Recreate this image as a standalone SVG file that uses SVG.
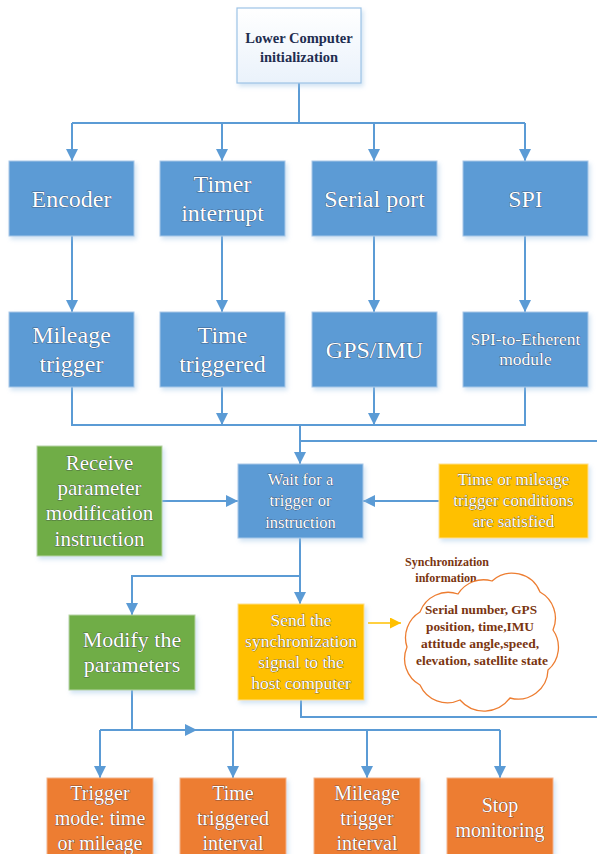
<svg xmlns="http://www.w3.org/2000/svg" width="597" height="854" viewBox="0 0 597 854">
<style>
.ln{stroke:#5B9BD5;stroke-width:2;fill:none}
.yl{stroke:#FFC000;stroke-width:1.5;fill:none}
.blue{fill:#5B9BD5;stroke:#A9C8E8;stroke-width:1}
.green{fill:#70AD47;stroke:#B7D4A5;stroke-width:1}
.yellow{fill:#FFC000;stroke:#FFE08A;stroke-width:1}
.orange{fill:#ED7D31;stroke:#F4B48A;stroke-width:1}
text{font-family:'Liberation Serif','DejaVu Serif',serif}
.t{text-anchor:middle;fill:#ffffff;stroke:#1c1c33;stroke-width:0.5;paint-order:stroke fill}
.dk{text-anchor:middle;font-weight:bold}
</style>
<defs>
<linearGradient id="wg" x1="0" y1="0" x2="0" y2="1">
<stop offset="0" stop-color="#ffffff"/>
<stop offset="1" stop-color="#EAF2FB"/>
</linearGradient>
<filter id="sh" x="-10%" y="-10%" width="125%" height="130%">
<feDropShadow dx="2" dy="3" stdDeviation="2" flood-color="#9DC3E6" flood-opacity="0.45"/>
</filter>
<marker id="ar" viewBox="0 0 12 12" markerWidth="12" markerHeight="12" refX="12" refY="6" orient="auto" markerUnits="userSpaceOnUse">
<path d="M0,0 L12,6 L0,12 z" fill="#5B9BD5"/>
</marker>
<marker id="ay" viewBox="0 0 12 12" markerWidth="11" markerHeight="11" refX="12" refY="6" orient="auto" markerUnits="userSpaceOnUse">
<path d="M0,0 L12,6 L0,12 z" fill="#FFC000"/>
</marker>
</defs>

<g id="connectors">
<path class="ln" d="M299,83 V123"/>
<path class="ln" d="M72,123 H525"/>
<path class="ln" d="M72,123 V161" marker-end="url(#ar)"/>
<path class="ln" d="M222,123 V161" marker-end="url(#ar)"/>
<path class="ln" d="M374,123 V161" marker-end="url(#ar)"/>
<path class="ln" d="M525,123 V161" marker-end="url(#ar)"/>
<path class="ln" d="M72,236 V312" marker-end="url(#ar)"/>
<path class="ln" d="M222,236 V312" marker-end="url(#ar)"/>
<path class="ln" d="M374,236 V312" marker-end="url(#ar)"/>
<path class="ln" d="M525,236 V312" marker-end="url(#ar)"/>
<path class="ln" d="M72,387 V425 H525 V387"/>
<path class="ln" d="M222,387 V425" marker-end="url(#ar)"/>
<path class="ln" d="M374,387 V425" marker-end="url(#ar)"/>
<path class="ln" d="M300,425 V464" marker-end="url(#ar)"/>
<path class="ln" d="M301,700 V717 H600 V441 H300"/>
<path class="ln" d="M162,501 H238" marker-end="url(#ar)"/>
<path class="ln" d="M439,501 H363" marker-end="url(#ar)"/>
<path class="ln" d="M300,538 V604" marker-end="url(#ar)"/>
<path class="ln" d="M300,576 H132 V615" marker-end="url(#ar)"/>
<path class="yl" d="M368,623 H401" marker-end="url(#ay)"/>
<path class="ln" d="M132,690 V730 H100"/>
<path class="ln" d="M100,730 H500"/>
<path class="ln" d="M132,730 H197" marker-end="url(#ar)"/>
<path class="ln" d="M100,730 V778" marker-end="url(#ar)"/>
<path class="ln" d="M233,730 V778" marker-end="url(#ar)"/>
<path class="ln" d="M367,730 V778" marker-end="url(#ar)"/>
<path class="ln" d="M500,730 V778" marker-end="url(#ar)"/>
</g>

<g id="init">
<rect x="237" y="8" width="124" height="75" fill="url(#wg)" stroke="#9DC3E6" stroke-width="1.2" filter="url(#sh)"/>
<text class="dk" x="299" y="43" font-size="14.5" fill="#1F2D50">Lower Computer</text>
<text class="dk" x="299" y="62" font-size="14.5" fill="#1F2D50">initialization</text>
</g>

<g id="encoder">
<rect class="blue" x="9" y="161" width="125" height="75" filter="url(#sh)"/>
<text class="t" x="71.5" y="207" font-size="24">Encoder</text>
</g>
<g id="timer">
<rect class="blue" x="160" y="161" width="125" height="75" filter="url(#sh)"/>
<text class="t" x="222.5" y="192" font-size="24">Timer</text>
<text class="t" x="222.5" y="221" font-size="24">interrupt</text>
</g>
<g id="serial">
<rect class="blue" x="312" y="161" width="125" height="75" filter="url(#sh)"/>
<text class="t" x="374.5" y="207" font-size="24">Serial port</text>
</g>
<g id="spi">
<rect class="blue" x="463" y="161" width="125" height="75" filter="url(#sh)"/>
<text class="t" x="525.5" y="207" font-size="24">SPI</text>
</g>

<g id="mileage">
<rect class="blue" x="9" y="312" width="125" height="75" filter="url(#sh)"/>
<text class="t" x="71.5" y="343" font-size="24">Mileage</text>
<text class="t" x="71.5" y="372" font-size="24">trigger</text>
</g>
<g id="timetrig">
<rect class="blue" x="160" y="312" width="125" height="75" filter="url(#sh)"/>
<text class="t" x="222.5" y="343" font-size="24">Time</text>
<text class="t" x="222.5" y="372" font-size="24">triggered</text>
</g>
<g id="gps">
<rect class="blue" x="312" y="312" width="125" height="75" filter="url(#sh)"/>
<text class="t" x="374.5" y="358" font-size="24">GPS/IMU</text>
</g>
<g id="spieth">
<rect class="blue" x="463" y="312" width="125" height="75" filter="url(#sh)"/>
<text class="t" x="525.5" y="345" font-size="17.5">SPI-to-Etherent</text>
<text class="t" x="525.5" y="365" font-size="17.5">module</text>
</g>

<g id="receive">
<rect class="green" x="37" y="446" width="125" height="110" filter="url(#sh)"/>
<text class="t" x="99.5" y="470" font-size="21">Receive</text>
<text class="t" x="99.5" y="495" font-size="21">parameter</text>
<text class="t" x="99.5" y="520" font-size="21">modification</text>
<text class="t" x="99.5" y="546" font-size="21">instruction</text>
</g>
<g id="wait">
<rect class="blue" x="238" y="464" width="125" height="74" filter="url(#sh)"/>
<text class="t" x="300.5" y="485" font-size="16.5">Wait for a</text>
<text class="t" x="300.5" y="506" font-size="16.5">trigger or</text>
<text class="t" x="300.5" y="528" font-size="16.5">instruction</text>
</g>
<g id="condition">
<rect class="yellow" x="439" y="464" width="149" height="74" filter="url(#sh)"/>
<text class="t" x="513.5" y="485" font-size="17">Time or mileage</text>
<text class="t" x="513.5" y="506" font-size="17">trigger conditions</text>
<text class="t" x="513.5" y="527" font-size="17">are satisfied</text>
</g>

<g id="modify">
<rect class="green" x="69" y="615" width="126" height="75" filter="url(#sh)"/>
<text class="t" x="132" y="647" font-size="22">Modify the</text>
<text class="t" x="132" y="672" font-size="22">parameters</text>
</g>
<g id="send">
<rect class="yellow" x="238" y="604" width="126" height="96" filter="url(#sh)"/>
<text class="t" x="301" y="626" font-size="17.5">Send the</text>
<text class="t" x="301" y="647" font-size="17.5">synchronization</text>
<text class="t" x="301" y="668" font-size="17.5">signal to the</text>
<text class="t" x="301" y="689" font-size="17.5">host computer</text>
</g>

<g id="syncinfo">
<text class="dk" x="447" y="566" font-size="12" fill="#7A3510">Synchronization</text>
<text class="dk" x="446" y="582" font-size="12" fill="#7A3510">information</text>
<path d="M420,612 A30,30 0 0 1 458,594 A30,30 0 0 1 492,581 A30,30 0 0 1 540,592 A30,30 0 0 1 553,630 A30,30 0 0 1 548,670 A30,30 0 0 1 510,698 A32,32 0 0 1 460,700 A30,30 0 0 1 420,685 A30,30 0 0 1 407,647 A30,30 0 0 1 420,612 Z" fill="#ffffff" stroke="#ED7D31" stroke-width="1.3"/>
<text class="dk" x="481" y="614" font-size="13" fill="#7A3510" textLength="112" lengthAdjust="spacingAndGlyphs">Serial number, GPS</text>
<text class="dk" x="480" y="631" font-size="13" fill="#7A3510" textLength="108" lengthAdjust="spacingAndGlyphs">position, time,IMU</text>
<text class="dk" x="480" y="648" font-size="13" fill="#7A3510" textLength="118" lengthAdjust="spacingAndGlyphs">attitude angle,speed,</text>
<text class="dk" x="482" y="665" font-size="13" fill="#7A3510" textLength="132" lengthAdjust="spacingAndGlyphs">elevation, satellite state</text>
</g>

<g id="mode">
<rect class="orange" x="47" y="778" width="106" height="82" filter="url(#sh)"/>
<text class="t" x="100" y="800" font-size="20">Trigger</text>
<text class="t" x="100" y="825" font-size="20">mode: time</text>
<text class="t" x="100" y="850" font-size="20">or mileage</text>
</g>
<g id="timeint">
<rect class="orange" x="180" y="778" width="106" height="82" filter="url(#sh)"/>
<text class="t" x="233" y="800" font-size="20">Time</text>
<text class="t" x="233" y="825" font-size="20">triggered</text>
<text class="t" x="233" y="850" font-size="20">interval</text>
</g>
<g id="mileint">
<rect class="orange" x="314" y="778" width="106" height="82" filter="url(#sh)"/>
<text class="t" x="367" y="800" font-size="20">Mileage</text>
<text class="t" x="367" y="825" font-size="20">trigger</text>
<text class="t" x="367" y="850" font-size="20">interval</text>
</g>
<g id="stop">
<rect class="orange" x="447" y="778" width="106" height="82" filter="url(#sh)"/>
<text class="t" x="500" y="812" font-size="20">Stop</text>
<text class="t" x="500" y="837" font-size="20">monitoring</text>
</g>
</svg>
